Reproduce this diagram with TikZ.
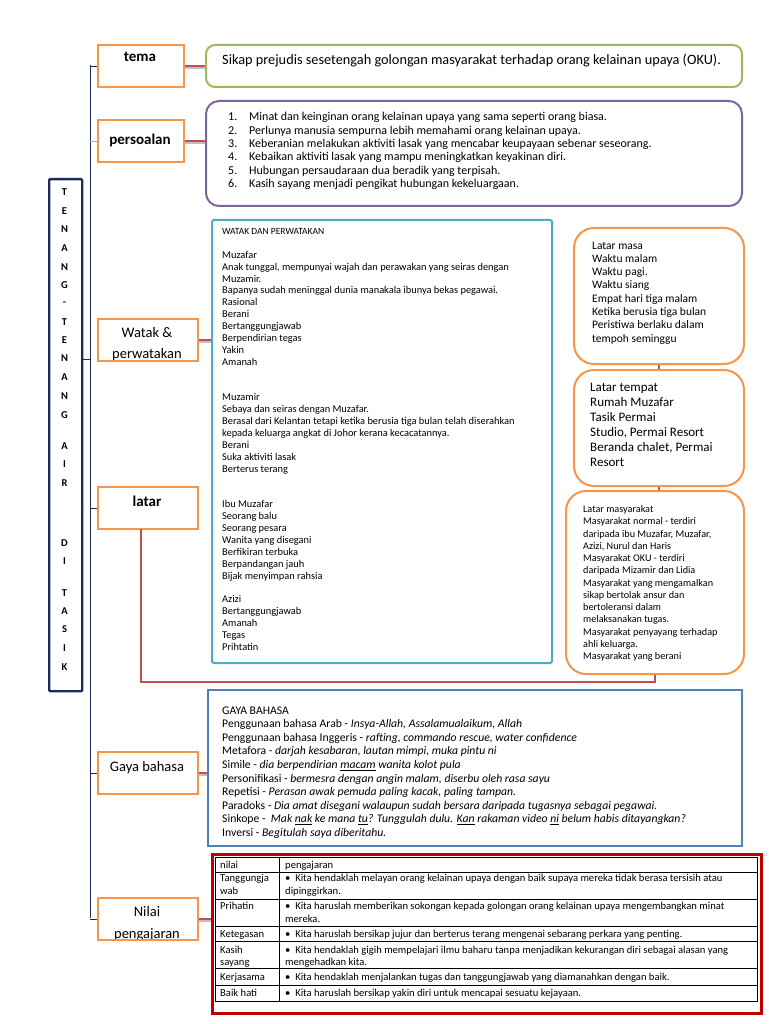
\documentclass[tikz,border=0pt]{standalone}
\usepackage{fontspec}
\setmainfont{Carlito}
\newcommand\fsz[2]{\fontsize{#1}{#2}\selectfont}
\definecolor{org}{HTML}{F79646}
\definecolor{grn}{HTML}{9BBB59}
\definecolor{prp}{HTML}{8064A2}
\definecolor{teal}{HTML}{4BACC6}
\definecolor{blu}{HTML}{4F81BD}
\definecolor{cred}{HTML}{C0504D}
\definecolor{navy}{HTML}{1F2A5C}
\definecolor{ltblu}{HTML}{8EB4E3}
\definecolor{frame}{HTML}{C00000}
\begin{document}
\begin{tikzpicture}[x=1pt,y=-1pt,
  lbl/.style={draw=org, line width=2pt, fill=white, anchor=north west, inner sep=0pt},
  cbox/.style={line width=2pt, fill=white, anchor=north west, inner sep=0pt},
  ln/.style={anchor=base west, inner sep=0pt},
  conn/.style={draw=cred, line width=1.8pt},
  shad/.style={draw=black!25, line width=1.8pt},
  nv/.style={draw=navy, line width=0.9pt}]
\useasboundingbox[fill=white] (0,0) rectangle (768,1024);

% ---------- left column ----------
\node[draw=navy, line width=2.4pt, rounded corners=1pt, minimum width=33pt, minimum height=512pt, anchor=north west, inner sep=0pt] (title) at (48,178) {};
\foreach \c/\yy [count=\i] in {T/191.7,E/210.7,N/229.3,A/248,N/266.7,G/285,-/303.3,T/321.7,E/340,N/358.3,A/377.3,N/396,G/415,A/446,I/464,R/482.7,D/543.3,I/560.7,T/592.7,A/610.7,S/629.3,I/648,K/666.7}
  \node[font=\fsz{10.5}{10.5}\bfseries, inner sep=0pt] (tl\i) at (64.5,\yy) {\c};

\node[lbl, minimum width=86pt, minimum height=42pt] (tema) at (97,44) {};
\node[font=\fsz{15}{15}\bfseries] (tematx) at (140,57) {tema};
\node[lbl, minimum width=86pt, minimum height=42pt] (pers) at (97,119) {};
\node[font=\fsz{15}{15}\bfseries] (perstx) at (140,140) {persoalan};
\node[lbl, minimum width=100pt, minimum height=42pt] (watak) at (97,318) {};
\begin{scope}
\clip (97,319) rectangle (197,359);
\node[font=\fsz{14.5}{14.5}] (watx1) at (147,333) {Watak \&};
\node[font=\fsz{14.5}{14.5}] (watx2) at (147,354.5) {perwatakan};
\end{scope}
\node[lbl, minimum width=100pt, minimum height=42pt] (latar) at (97,486) {};
\node[font=\fsz{15}{15}\bfseries] (latx) at (147,501) {latar};
\node[lbl, minimum width=100pt, minimum height=42pt] (gaya) at (97,751) {};
\node[font=\fsz{14.5}{14.5}] (gatx) at (147,768) {Gaya bahasa};
\node[lbl, minimum width=100pt, minimum height=42pt] (nilai) at (97,897) {};
\begin{scope}
\clip (97,898) rectangle (197,938);
\node[font=\fsz{14.5}{14.5}] (nitx1) at (147,912) {Nilai};
\node[font=\fsz{14.5}{14.5}] (nitx2) at (147,934.5) {pengajaran};
\end{scope}

% spine
\coordinate (vtop) at (90,65);
\coordinate (vbot) at (90,918);
\coordinate (tj) at (90,359);
\draw[nv] (vtop) -- (vbot);
\draw[nv] (tj) -- (tj -| title.east);
\draw[nv] (tema.west) -- (tema.west -| vtop);
\draw[draw=ltblu, line width=0.9pt] (pers.west) -- (pers.west -| vtop);
\draw[nv] (latar.west) -- (latar.west -| vtop);
\draw[nv] (gaya.west) -- (gaya.west -| vtop);
\draw[nv] (nilai.west) -- (nilai.west -| vtop);

% ---------- content boxes ----------
\node[cbox, draw=grn, rounded corners=9pt, minimum width=536pt, minimum height=42pt] (tbox) at (205,44) {};
\node[font=\fsz{14.3}{14.3}, ln] (ttx) at (222,64.5) {Sikap prejudis sesetengah golongan masyarakat terhadap orang kelainan upaya (OKU).};

\node[cbox, draw=prp, rounded corners=13pt, minimum width=536pt, minimum height=105pt] (pbox) at (205,100) {};
\foreach \t [count=\i from 0] in {{Minat dan keinginan orang kelainan upaya yang sama seperti orang biasa.},{Perlunya manusia sempurna lebih memahami orang kelainan upaya.},{Keberanian melakukan aktiviti lasak yang mencabar keupayaan sebenar seseorang.},{Kebaikan aktiviti lasak yang mampu meningkatkan keyakinan diri.},{Hubungan persaudaraan dua beradik yang terpisah.},{Kasih sayang menjadi pengikat hubungan kekeluargaan.}}{
  \pgfmathtruncatemacro\n{\i+1}
  \node[ln, font=\fsz{12}{12}] (pn\i) at (228,{121+\i*13.3}) {\n.};
  \node[ln, font=\fsz{12}{12}] (pt\i) at (249,{121+\i*13.3}) {\t};
}

\node[cbox, draw=teal, rounded corners=2pt, minimum width=340pt, minimum height=443pt] (wbox) at (211,219) {};
\node[ln, font=\fsz{9.5}{9.5}] (wt0) at (222,234) {WATAK DAN PERWATAKAN};
\foreach \t [count=\i from 1] in {{},{Muzafar},{Anak tunggal, mempunyai wajah dan perawakan yang seiras dengan},{Muzamir.},{Bapanya sudah meninggal dunia manakala ibunya bekas pegawai.},{Rasional},{Berani},{Bertanggungjawab},{Berpendirian tegas},{Yakin},{Amanah},{},{},{Muzamir},{Sebaya dan seiras dengan Muzafar.},{Berasal dari Kelantan tetapi ketika berusia tiga bulan telah diserahkan},{kepada keluarga angkat di Johor kerana kecacatannya.},{Berani},{Suka aktiviti lasak},{Berterus terang},{},{},{Ibu Muzafar},{Seorang balu},{Seorang pesara},{Wanita yang disegani},{Berfikiran terbuka},{Berpandangan jauh},{Bijak menyimpan rahsia},{},{Azizi},{Bertanggungjawab},{Amanah},{Tegas},{Prihtatin}}
  \node[ln, font=\fsz{10.4}{10.4}] (wt\i) at (222,{234.5+\i*11.88}) {\t};

\node[cbox, draw=org, rounded corners=20pt, minimum width=170pt, minimum height=136pt] (lmasa) at (573,227) {};
\foreach \t [count=\i from 0] in {{Latar masa},{Waktu malam},{Waktu pagi.},{Waktu siang},{Empat hari tiga malam},{Ketika berusia tiga bulan},{Peristiwa berlaku dalam},{tempoh seminggu}}
  \node[ln, font=\fsz{11.5}{11.5}] (lm\i) at (592,{249+\i*13.3}) {\t};

\node[cbox, draw=org, rounded corners=20pt, minimum width=170pt, minimum height=116pt] (ltem) at (573,369) {};
\foreach \t [count=\i from 0] in {{Latar tempat},{Rumah Muzafar},{Tasik Permai},{Studio, Permai Resort},{Beranda chalet, Permai},{Resort}}
  \node[ln, font=\fsz{13}{13}] (lt\i) at (590,{391.5+\i*15}) {\t};

\node[cbox, draw=org, rounded corners=20pt, minimum width=178pt, minimum height=183pt] (lmas) at (565,490) {};
\foreach \t [count=\i from 0] in {{Latar masyarakat},{Masyarakat normal - terdiri},{daripada ibu Muzafar, Muzafar,},{Azizi, Nurul dan Haris},{Masyarakat OKU - terdiri},{daripada Mizamir dan Lidia},{Masyarakat yang mengamalkan},{sikap bertolak ansur dan},{bertoleransi dalam},{melaksanakan tugas.},{Masyarakat penyayang terhadap},{ahli keluarga.},{Masyarakat yang berani}}
  \node[ln, font=\fsz{10.2}{10.2}] (ls\i) at (583,{512.5+\i*12.25}) {\t};

\node[cbox, draw=blu, minimum width=534pt, minimum height=156pt] (gbox) at (207,689) {};
\foreach \t [count=\i from 0] in {{GAYA BAHASA},{Penggunaan bahasa Arab - \textit{Insya-Allah, Assalamualaikum, Allah}},{Penggunaan bahasa Inggeris - \textit{rafting, commando rescue, water confidence}},{Metafora - \textit{darjah kesabaran, lautan mimpi, muka pintu ni}},{Simile - \textit{dia berpendirian \underline{macam} wanita kolot pula}},{Personifikasi - \textit{bermesra dengan angin malam, diserbu oleh rasa sayu}},{Repetisi - \textit{Perasan awak pemuda paling kacak, paling tampan.}},{Paradoks - \textit{Dia amat disegani walaupun sudah bersara daripada tugasnya sebagai pegawai.}},{Sinkope - \ \textit{Mak \underline{nak} ke mana \underline{tu}? Tunggulah dulu. \underline{Kan} rakaman video \underline{ni} belum habis ditayangkan?}},{Inversi - \textit{Begitulah saya diberitahu.}}}
  \node[ln, font=\fsz{11.7}{11.7}] (gl\i) at (222,{714+\i*13.6}) {\t};

% ---------- table ----------
\node[cbox, draw=frame, line width=2.6pt, minimum width=549pt, minimum height=159pt] (tframe) at (211,853) {};
\draw[line width=0.9pt] (215,857) rectangle (757,1001);
\foreach \yy in {872,899,926,941,968,985} \draw[line width=0.9pt] (215,\yy) -- (757,\yy);
\draw[line width=0.9pt] (279,857) -- (279,1001);
\begin{scope}[every node/.style={ln, font=\fsz{10.6}{10.6}}]
\node (c0a) at (220,868) {nilai};
\node (c0b) at (285,868) {pengajaran};
\node (c1a) at (220,881) {Tanggungja};
\node (c1b) at (220,894) {wab};
\node (c1c) at (285,881) {\textbullet\ \ Kita hendaklah melayan orang kelainan upaya dengan baik supaya mereka tidak berasa tersisih atau};
\node (c1d) at (285,894) {dipinggirkan.};
\node (c2a) at (220,909) {Prihatin};
\node (c2c) at (285,909) {\textbullet\ \ Kita haruslah memberikan sokongan kepada golongan orang kelainan upaya mengembangkan minat};
\node (c2d) at (285,922) {mereka.};
\node (c3a) at (220,937) {Ketegasan};
\node (c3c) at (285,937) {\textbullet\ \ Kita haruslah bersikap jujur dan berterus terang mengenai sebarang perkara yang penting.};
\node (c4a) at (220,953) {Kasih};
\node (c4b) at (220,965) {sayang};
\node (c4c) at (285,953) {\textbullet\ \ Kita hendaklah gigih mempelajari ilmu baharu tanpa menjadikan kekurangan diri sebagai alasan yang};
\node (c4d) at (285,965) {mengehadkan kita.};
\node (c5a) at (220,980) {Kerjasama};
\node (c5c) at (285,980) {\textbullet\ \ Kita hendaklah menjalankan tugas dan tanggungjawab yang diamanahkan dengan baik.};
\node (c6a) at (220,996) {Baik hati};
\node (c6c) at (285,996) {\textbullet\ \ Kita haruslah bersikap yakin diri untuk mencapai sesuatu kejayaan.};
\end{scope}

% ---------- connectors ----------
\draw[shad] ([yshift=-2pt]tema.east) -- ([yshift=-2pt]tema.east -| tbox.west);
\draw[conn] (tema.east) -- (tema.east -| tbox.west);
\draw[shad] ([yshift=-2pt]pers.east) -- ([yshift=-2pt]pers.east -| pbox.west);
\draw[conn] (pers.east) -- (pers.east -| pbox.west);
\draw[shad] ([yshift=-2pt]watak.east) -- ([yshift=-2pt]watak.east -| wbox.west);
\draw[conn] (watak.east) -- (watak.east -| wbox.west);
\draw[shad] ([yshift=-2pt]gaya.east) -- ([yshift=-2pt]gaya.east -| gbox.west);
\draw[conn] (gaya.east) -- (gaya.east -| gbox.west);
\draw[shad] ([yshift=-2pt]nilai.east) -- ([yshift=-2pt]nilai.east -| tframe.west);
\draw[conn] (nilai.east) -- (nilai.east -| tframe.west);
\coordinate (la) at (141,529);
\coordinate (lb) at (141,682);
\draw[conn] (la) -- (lb) -| (lmas.south);
\draw[conn] (lmasa.south) -- (ltem.north);
\draw[conn] (ltem.south) -- (ltem.south |- lmas.north);
\end{tikzpicture}
\end{document}
